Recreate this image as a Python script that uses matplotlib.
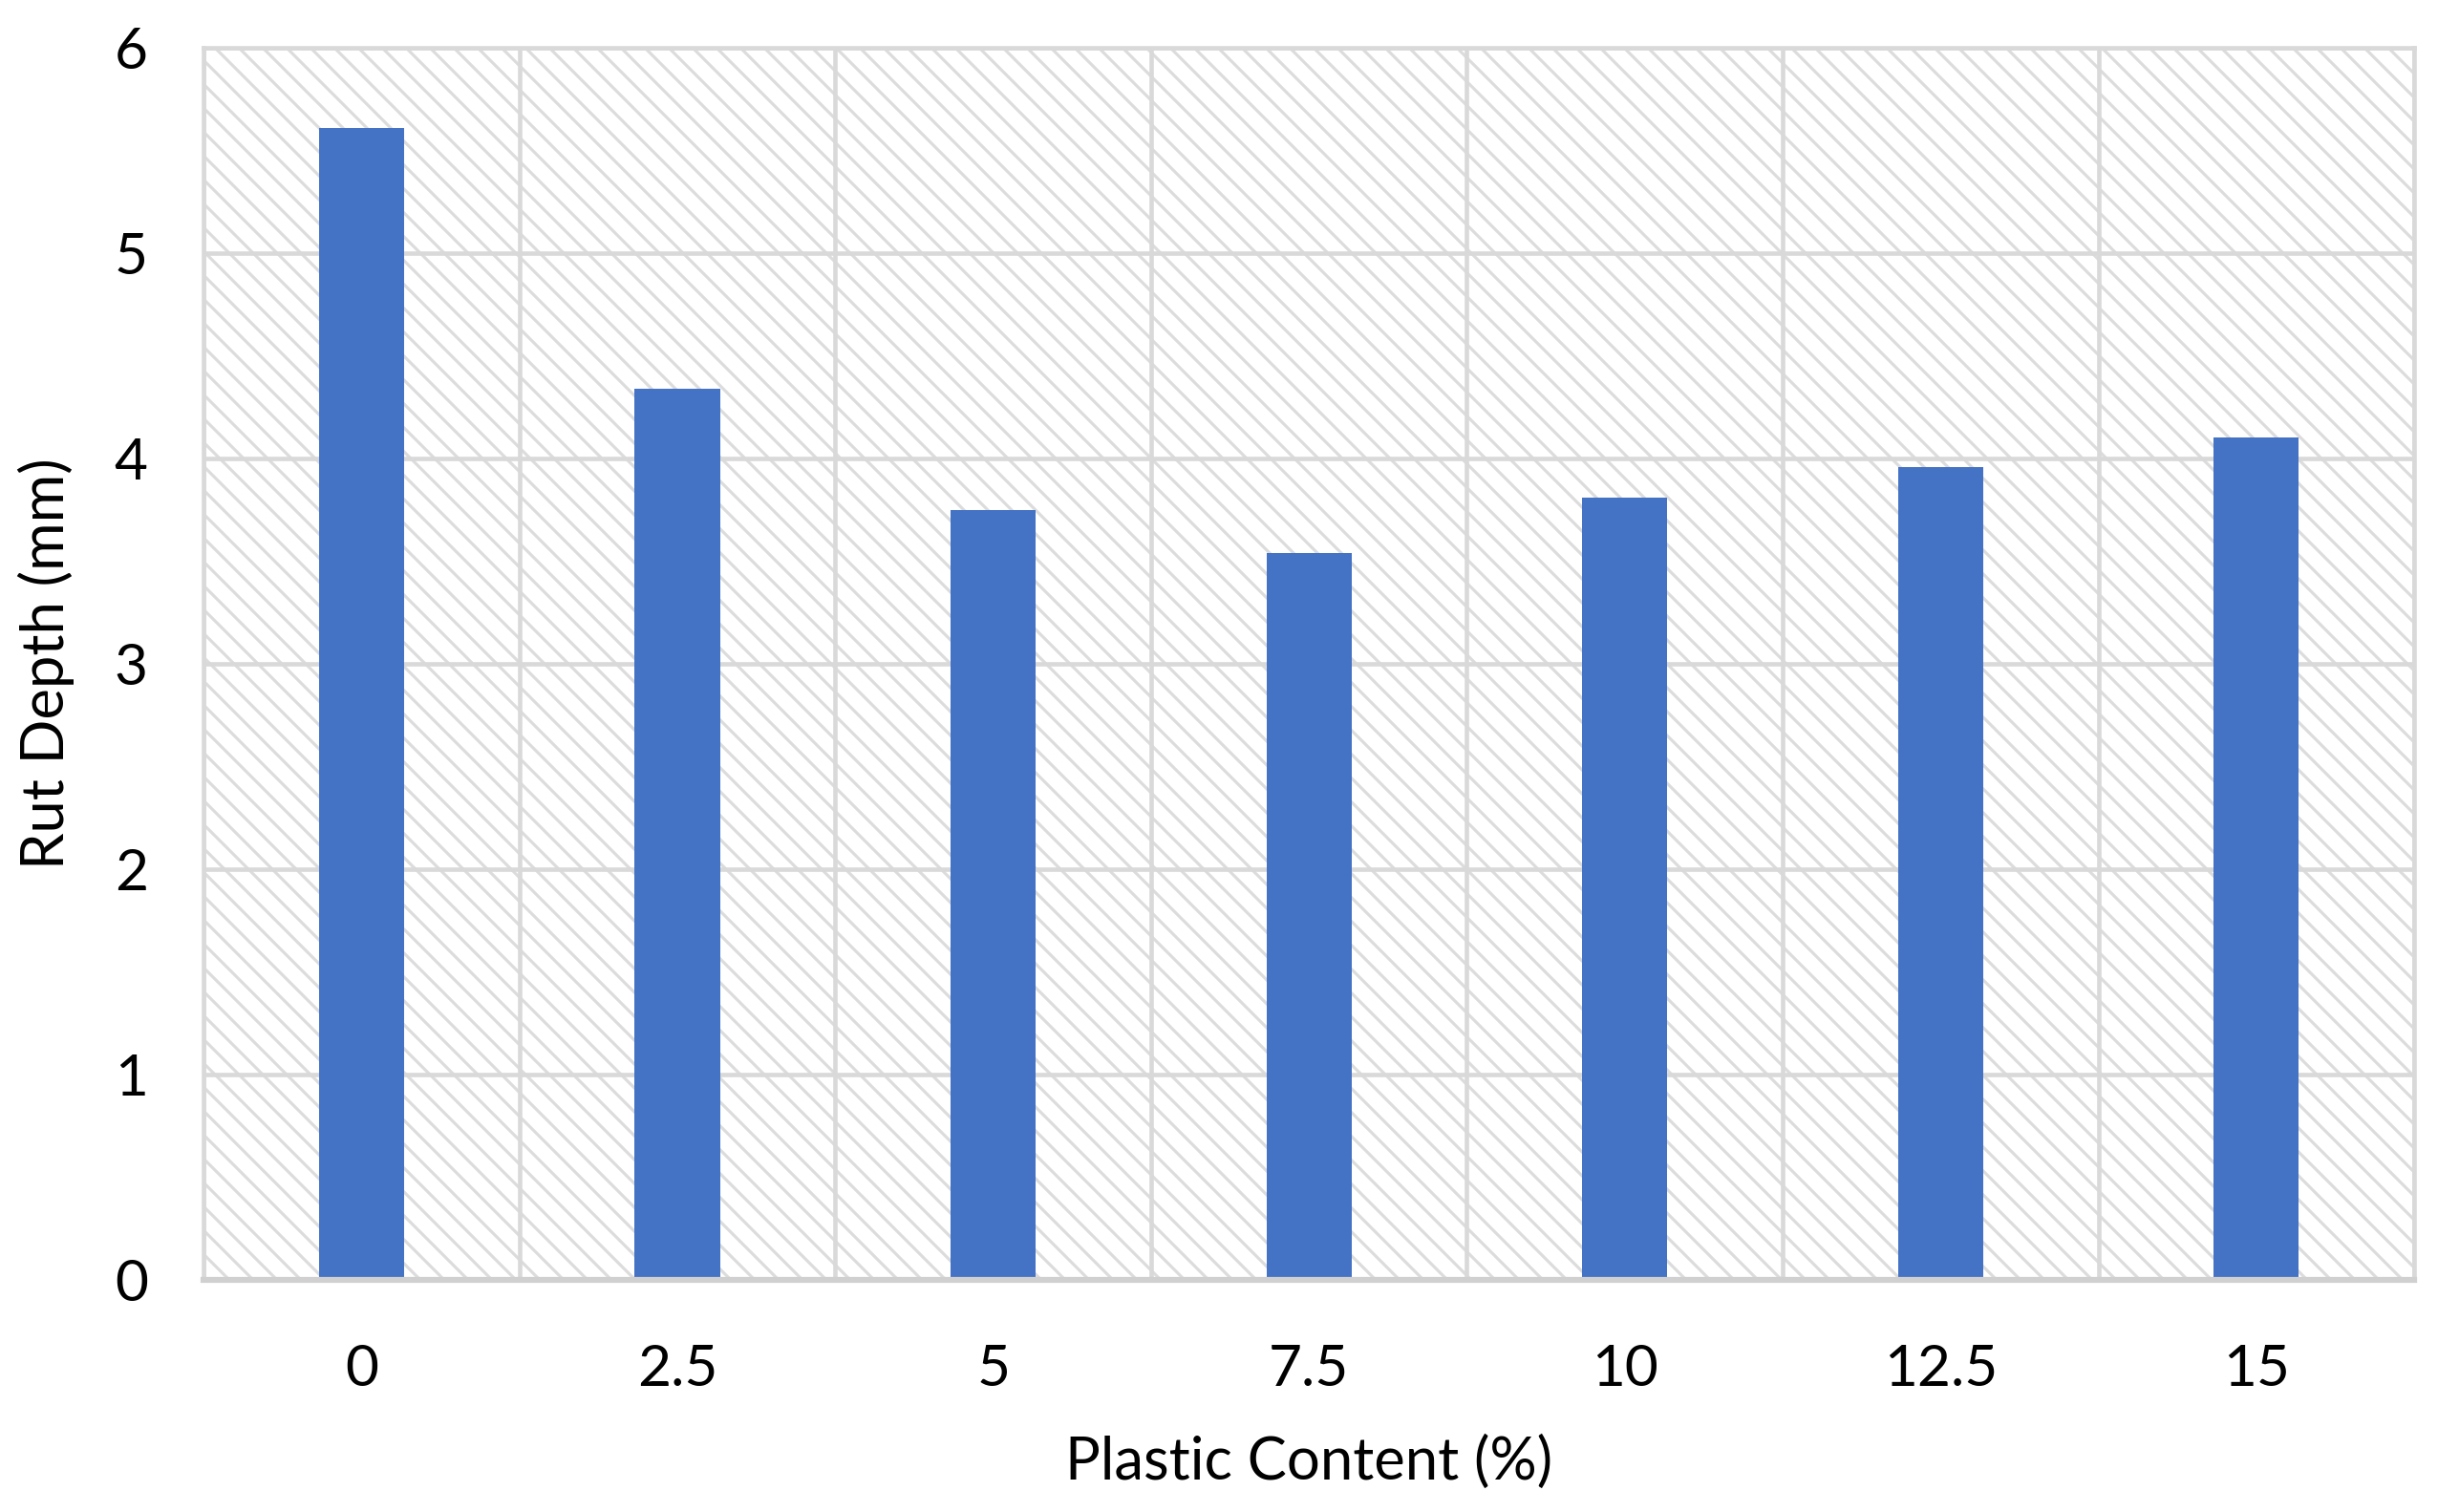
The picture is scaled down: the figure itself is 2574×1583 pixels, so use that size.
import matplotlib
matplotlib.use("Agg")
import matplotlib.pyplot as plt
from matplotlib.patches import Rectangle

categories = ["0", "2.5", "5", "7.5", "10", "12.5", "15"]
rut_depth = [5.61, 4.34, 3.75, 3.54, 3.81, 3.96, 4.10]
y_ticks = [0, 1, 2, 3, 4, 5, 6]

plt.rcParams['font.family'] = ['Lato', 'DejaVu Sans']
plt.rcParams['hatch.linewidth'] = 1.5
plt.rcParams['hatch.color'] = '#dcdcdc'

DPI = 150
fig = plt.figure(figsize=(2574 / DPI, 1583 / DPI), dpi=DPI)
ax = fig.add_axes([0.0828, 0.1535, 0.899, 0.815])

grid_c = '#d9d9d9'
ax.add_patch(Rectangle((0, 0), 1, 1, transform=ax.transAxes, facecolor='white',
                       edgecolor='#dcdcdc', hatch='\\\\', linewidth=0, zorder=0))

x = list(range(len(categories)))
ax.bar(x, rut_depth, width=0.27, color='#4472C4', zorder=3)

ax.set_xlim(-0.5, len(categories) - 0.5)
ax.set_ylim(0, 6)
ax.set_yticks(y_ticks)
ax.set_yticklabels([str(t) for t in y_ticks])
ax.set_xticks(x)
ax.set_xticklabels(categories)
ax.set_xticks([i + 0.5 for i in range(-1, len(categories))], minor=True)

ax.grid(True, axis='y', which='major', color=grid_c, linewidth=2.2, zorder=1)
ax.grid(True, axis='x', which='minor', color=grid_c, linewidth=2.2, zorder=1)
ax.grid(False, axis='x', which='major')
ax.set_axisbelow(True)

for s in ['left', 'right', 'top']:
    ax.spines[s].set_color(grid_c)
    ax.spines[s].set_linewidth(2.2)
ax.spines['bottom'].set_color('#d0d0d0')
ax.spines['bottom'].set_linewidth(3.0)
ax.spines['bottom'].set_zorder(4)

ax.tick_params(axis='both', which='both', length=0)
ax.tick_params(axis='y', pad=28, labelsize=29)
ax.tick_params(axis='x', pad=32, labelsize=29)

ax.set_xlabel('Plastic Content (%)', fontsize=29.5, labelpad=20)
ax.set_ylabel('Rut Depth (mm)', fontsize=29.5, labelpad=20)

fig.savefig('out.png', dpi=DPI)
